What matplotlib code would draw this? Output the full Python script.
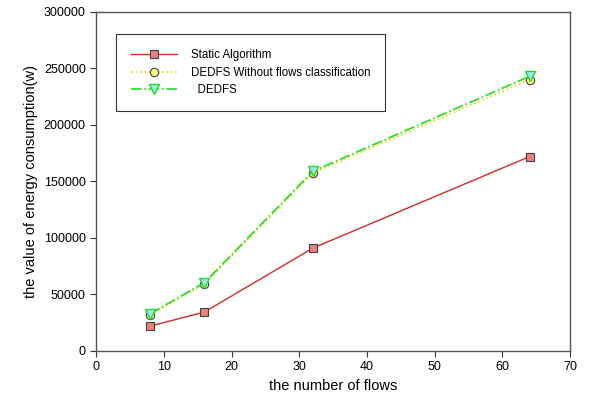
import matplotlib.pyplot as plt

plt.rcParams['font.family'] = ['Liberation Sans', 'DejaVu Sans']

# number of flows
flows = [8, 16, 32, 64]
# energy consumption (w)
static_alg = [22000, 34500, 91000, 172000]
dedfs_noclass = [32000, 59500, 157500, 240000]
dedfs = [33000, 60500, 159000, 243000]

fig = plt.figure(figsize=(5.97, 4.11), dpi=100)
ax = fig.add_axes([0.161, 0.146, 0.794, 0.825])

ax.plot(flows, static_alg, '-', color='#d42a2a', lw=1,
        marker='s', ms=6, mfc='#f08080', mec='#404040', mew=0.8,
        label='Static Algorithm')
ax.plot(flows, dedfs_noclass, ':', color='#e0e000', lw=1.2,
        marker='o', ms=6, mfc='#ffff80', mec='#404040', mew=0.8,
        label='DEDFS Without flows classification')
ax.plot(flows, dedfs, '-.', color='#22dd22', lw=1.2,
        marker='v', ms=7, mfc='#a0e8f0', mec='#22dd22', mew=1,
        label='  DEDFS')

ax.set_xlim(0, 70)
ax.set_ylim(0, 300000)
ax.set_xticks(range(0, 71, 10))
ax.set_yticks(range(0, 300001, 50000))
ax.tick_params(direction='out', labelsize=9, length=4, width=0.8, colors='#333333', labelcolor='black')
ax.tick_params(top=False, right=False)
for s in ax.spines.values():
    s.set_linewidth(1)
    s.set_color('#555555')

ax.set_xlabel('the number of flows', fontsize=10.5)
ax.set_ylabel('the value of energy consumption(w)', fontsize=10.5)

leg = ax.legend(loc='upper left', bbox_to_anchor=(0.042, 0.935), borderaxespad=0,
                fontsize=8.3, frameon=True, fancybox=False, handlelength=4.0,
                handletextpad=1.2, borderpad=1.3, labelspacing=0.5)
leg.get_frame().set_edgecolor('black')
leg.get_frame().set_linewidth(0.8)

plt.savefig('out.png', dpi=100)
